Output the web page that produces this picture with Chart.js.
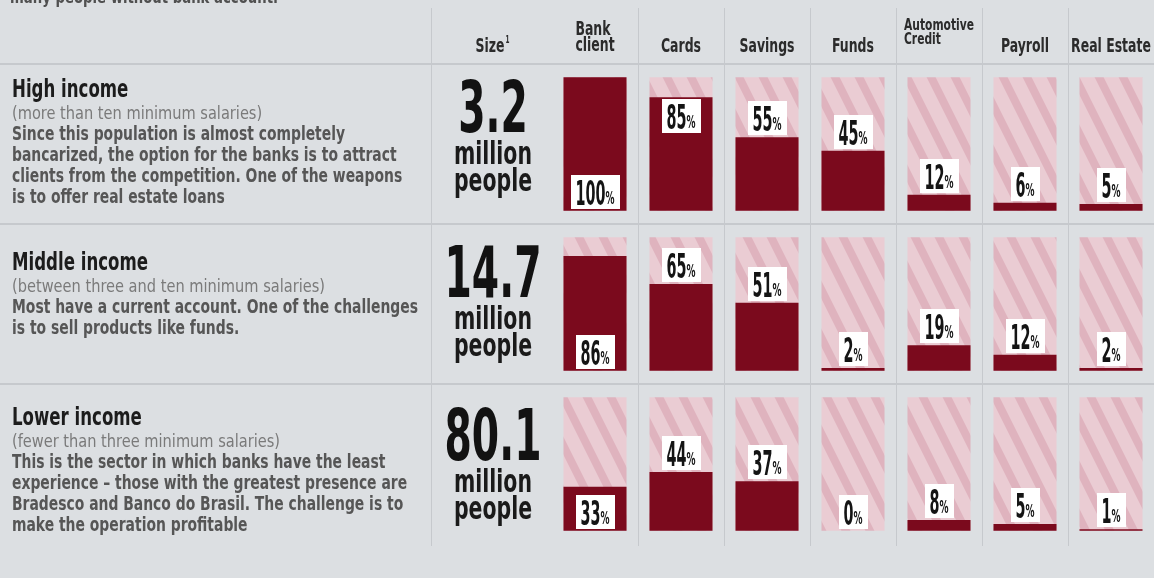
<!DOCTYPE html>
<html lang="en">
<head>
<meta charset="utf-8">
<title>Bank products by income group</title>
<script src="https://cdn.jsdelivr.net/npm/chart.js@4.4.1/dist/chart.umd.min.js"></script>
<style>
  html, body { margin: 0; padding: 0; background: #dcdfe2; }
  #board { position: relative; width: 1154px; height: 578px; overflow: hidden; }
  canvas { display: block; }
</style>
</head>
<body>
<div id="board"><canvas id="bankingChart" width="1154" height="578"></canvas></div>
<script>
// --- data ---
const products = [['Bank', 'client'], 'Cards', 'Savings', 'Funds', ['Automotive', 'Credit'], 'Payroll', 'Real Estate'];
const incomeGroups = ['High income', 'Middle income', 'Lower income'];
const incomeRanges = [
    '(more than ten minimum salaries)',
    '(between three and ten minimum salaries)',
    '(fewer than three minimum salaries)'
];
const groupNotes = [
    ['Since this population is almost completely',
     'bancarized, the option for the banks is to attract',
     'clients from the competition. One of the weapons',
     'is to offer real estate loans'],
    ['Most have a current account. One of the challenges',
     'is to sell products like funds.'],
    ['This is the sector in which banks have the least',
     'experience \u2013 those with the greatest presence are',
     'Bradesco and Banco do Brasil. The challenge is to',
     'make the operation profitable']
];
const groupSizes = [3.2, 14.7, 80.1]; // million people
const highIncome = [100, 85, 55, 45, 12, 6, 5];
const middleIncome = [86, 65, 51, 2, 19, 12, 2];
const lowerIncome = [33, 44, 37, 0, 8, 5, 1];
const trackMax = 100;
const introLine = 'many people without bank account.';

const rowValues = [highIncome, middleIncome, lowerIncome];

// --- text styles (condensed look: each style is squeezed to a reference width) ---
const FONT = '"Liberation Sans Narrow", "DejaVu Sans Condensed", "Liberation Sans", sans-serif';
const TEXT = {
    intro:    { font: 'bold 18px', color: '#505050', ref: introLine, width: 268 },
    header:   { font: 'bold 19px', color: '#2b2b2b', ref: 'Savings', width: 55 },
    headerSm: { font: 'bold 15px', color: '#2b2b2b', ref: 'Automotive', width: 70 },
    sup:      { font: 'bold 11px', color: '#2b2b2b', ref: '1', width: 4 },
    title:    { font: 'bold 24px', color: '#1c1c1c', ref: 'Middle income', width: 136 },
    range:    { font: '17px', color: '#7a7a7a', ref: '(between three and ten minimum salaries)', width: 313 },
    note:     { font: 'bold 19px', color: '#565656', ref: 'Most have a current account. One of the challenges', width: 406 },
    size:     { font: 'bold 72px', color: '#121212', ref: '14.7', width: 97 },
    unit:     { font: 'bold 32px', color: '#1a1a1a', ref: 'million', width: 78 },
    digits:   { font: 'bold 34px', color: '#141414', ref: '00', width: 20 },
    pct:      { font: 'bold 18px', color: '#141414', ref: '%', width: 9 }
};
const probe = document.createElement('canvas').getContext('2d');
for (const s of Object.values(TEXT)) {
    probe.font = `${s.font} ${FONT}`;
    s.squeeze = s.width / probe.measureText(s.ref).width;
}

function textWidth(ctx, str, s) {
    ctx.font = `${s.font} ${FONT}`;
    return ctx.measureText(str).width * s.squeeze;
}

function drawText(ctx, str, x, y, s, align = 'left') {
    const w = textWidth(ctx, str, s);
    const left = align === 'center' ? x - w / 2 : align === 'right' ? x - w : x;
    ctx.save();
    ctx.font = `${s.font} ${FONT}`;
    ctx.fillStyle = s.color;
    ctx.textAlign = 'left';
    ctx.textBaseline = 'alphabetic';
    ctx.translate(left, y);
    ctx.scale(s.squeeze, 1);
    ctx.fillText(str, 0, 0);
    ctx.restore();
    return w;
}

// white tag with the percentage, bottom edge at `bottom`
function drawValueLabel(ctx, value, cx, bottom, h) {
    const num = String(value);
    const dw = textWidth(ctx, num, TEXT.digits);
    const pw = textWidth(ctx, '%', TEXT.pct);
    const w = Math.round(dw + pw + 10);
    ctx.fillStyle = '#ffffff';
    ctx.fillRect(Math.round(cx - w / 2), Math.round(bottom - h), w, h);
    const left = cx - (dw + pw) / 2;
    drawText(ctx, num, left, bottom - 4, TEXT.digits);
    drawText(ctx, '%', left + dw, bottom - 5, TEXT.pct);
}

// pink diagonal stripes for the empty part of each column
function stripePattern(ctx) {
    const tile = document.createElement('canvas');
    tile.width = 24;
    tile.height = 48;
    const t = tile.getContext('2d');
    t.fillStyle = '#eaccd3';
    t.fillRect(0, 0, 24, 48);
    t.fillStyle = '#dfb3be';
    for (const o of [-24, 0, 24]) {
        t.beginPath();
        t.moveTo(o, 0);
        t.lineTo(o + 9, 0);
        t.lineTo(o + 33, 48);
        t.lineTo(o + 24, 48);
        t.closePath();
        t.fill();
    }
    return ctx.createPattern(tile, 'repeat');
}

const sizeX = 493;          // centre of the "Size" column
const labelH = 34;          // height of the white value tags
const bottomLabelColumn = 0; // "Bank client" tags sit at the foot of the bar
const rowText = [           // baselines measured from the top of each row
    { title: 33, size: 68 },
    { title: 46, size: 73 },
    { title: 41, size: 76 }
];

const boardPlugin = {
    id: 'board',
    beforeDatasetsDraw(chart) {
        const { ctx, scales: { x } } = chart;
        ctx.save();
        ctx.fillStyle = '#c6c9cd';
        incomeGroups.forEach((_, r) => {
            const top = Math.round(chart.scales['row' + r].top);
            ctx.fillRect(0, top - 1, chart.width, 2);
        });
        const xs = [431];
        for (let i = 1; i < products.length; i++) {
            xs.push(Math.round((x.getPixelForValue(i - 1) + x.getPixelForValue(i)) / 2));
        }
        xs.forEach(px => ctx.fillRect(px, 8, 1, 538));
        ctx.restore();
    },
    afterDatasetsDraw(chart) {
        const { ctx } = chart;
        rowValues.forEach((values, r) => {
            const meta = chart.getDatasetMeta(r * 2);
            const trackTop = chart.scales['row' + r].getPixelForValue(trackMax);
            meta.data.forEach((bar, i) => {
                const { x, y, base } = bar.getProps(['x', 'y', 'base'], true);
                let bottom;
                if (i === bottomLabelColumn) bottom = base - 2;
                else if (y - 2 - labelH >= trackTop) bottom = y - 2;
                else bottom = y + 2 + labelH;
                drawValueLabel(ctx, values[i], x, bottom, labelH);
            });
        });
    },
    afterDraw(chart) {
        const { ctx, scales: { x } } = chart;
        drawText(ctx, introLine, 10, 3, TEXT.intro);

        // column headers
        const sw = drawText(ctx, 'Size', sizeX - 3, 52, TEXT.header, 'center');
        drawText(ctx, '1', sizeX - 3 + sw / 2 + 1, 43, TEXT.sup);
        chart.data.labels.forEach((label, i) => {
            const cx = x.getPixelForValue(i);
            if (Array.isArray(label)) {
                const style = label.join(' ').length > 12 ? TEXT.headerSm : TEXT.header;
                const base = style === TEXT.headerSm ? 30 : 35;
                const step = style === TEXT.headerSm ? 14 : 16;
                const widest = Math.max(...label.map(l => textWidth(ctx, l, style)));
                label.forEach((line, k) => drawText(ctx, line, cx - widest / 2, base + k * step, style));
            } else {
                drawText(ctx, label, cx, 52, TEXT.header, 'center');
            }
        });

        // row descriptions and group sizes
        incomeGroups.forEach((title, r) => {
            const top = chart.scales['row' + r].top;
            let y = top + rowText[r].title;
            drawText(ctx, title, 12, y, TEXT.title);
            y += 22;
            drawText(ctx, incomeRanges[r], 12, y, TEXT.range);
            groupNotes[r].forEach(line => {
                y += 21;
                drawText(ctx, line, 12, y, TEXT.note);
            });
            const sy = top + rowText[r].size;
            drawText(ctx, groupSizes[r].toFixed(1), sizeX, sy, TEXT.size, 'center');
            drawText(ctx, 'million', sizeX, sy + 32, TEXT.unit, 'center');
            drawText(ctx, 'people', sizeX, sy + 59, TEXT.unit, 'center');
        });
    }
};

const canvas = document.getElementById('bankingChart');
const ctx = canvas.getContext('2d');
const stripes = stripePattern(ctx);

const datasets = rowValues.flatMap((values, r) => [
    {
        label: incomeGroups[r],
        data: values,
        yAxisID: 'row' + r,
        backgroundColor: '#7b0a1d',
        order: 0
    },
    {
        label: incomeGroups[r] + ' (total)',
        data: values.map(() => trackMax),
        yAxisID: 'row' + r,
        backgroundColor: stripes,
        order: 1
    }
]);

const rowScale = {
    type: 'linear',
    display: false,
    position: 'right',
    stack: 'rows',
    stackWeight: 1,
    min: -10,
    max: 110
};

new Chart(ctx, {
    type: 'bar',
    data: { labels: products, datasets },
    options: {
        responsive: false,
        devicePixelRatio: 1,
        animation: false,
        layout: { padding: { left: 552, top: 64, right: 0, bottom: 34 } },
        datasets: {
            bar: { grouped: false, barPercentage: 0.733, categoryPercentage: 1, borderWidth: 0 }
        },
        plugins: {
            legend: { display: false },
            tooltip: { enabled: false }
        },
        scales: {
            x: { display: false },
            row0: { ...rowScale },
            row1: { ...rowScale },
            row2: { ...rowScale }
        }
    },
    plugins: [boardPlugin]
});
</script>
</body>
</html>
